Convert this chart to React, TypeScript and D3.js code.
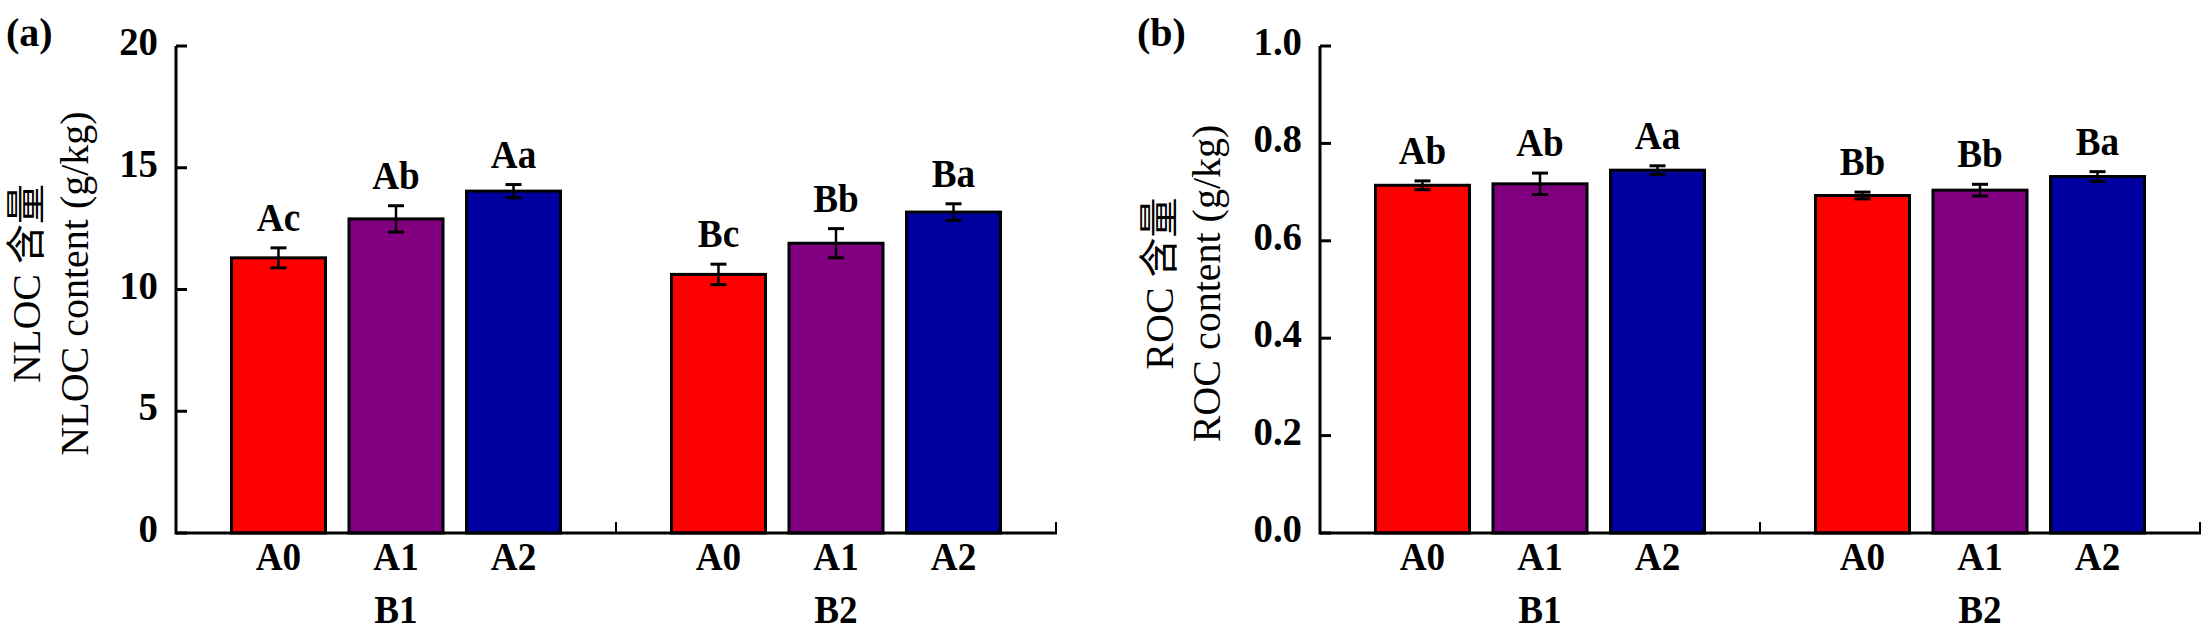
import React from 'react';
import * as d3 from 'd3';

const groups = ['B1', 'B2'];
const treatments = ['A0', 'A1', 'A2'];
const colors = ['#FF0000', '#800080', '#0000A0'];

const nlocMean = [11.3, 12.9, 14.04, 10.62, 11.9, 13.18];
const nlocErr = [0.41, 0.54, 0.27, 0.42, 0.6, 0.34];
const nlocLetters = ['Ac', 'Ab', 'Aa', 'Bc', 'Bb', 'Ba'];
const nlocTicks = [0, 5, 10, 15, 20];

const rocMean = [0.714, 0.717, 0.745, 0.693, 0.704, 0.732];
const rocErr = [0.009, 0.022, 0.009, 0.007, 0.012, 0.01];
const rocLetters = ['Ab', 'Ab', 'Aa', 'Bb', 'Bb', 'Ba'];
const rocTicks = [0, 0.2, 0.4, 0.6, 0.8, 1.0];

const FONT = "'Liberation Serif', 'Times New Roman', 'Noto Sans CJK SC', serif";
const FS = 40;
const SX = 0.93;

function T(props: {
  x: number;
  y: number;
  anchor?: string;
  bold?: boolean;
  sx?: number;
  children: React.ReactNode;
}) {
  const sx = props.sx ?? SX;
  return (
    <text
      transform={`translate(${props.x},${props.y}) scale(${sx},1)`}
      textAnchor={props.anchor ?? 'middle'}
      fontSize={FS}
      fontWeight={props.bold === false ? 'normal' : 'bold'}
    >
      {props.children}
    </text>
  );
}

type PanelProps = {
  x0: number;
  x1: number;
  tag: string;
  tagX: number;
  title1: string;
  title2: string;
  t1x: number;
  t2x: number;
  means: number[];
  errs: number[];
  letters: string[];
  ticks: number[];
  ymax: number;
  fmt: (v: number) => string;
};

function Panel(p: PanelProps) {
  const top = 46;
  const bottom = 533;
  const y = d3.scaleLinear().domain([0, p.ymax]).range([bottom, top]);
  const gx = d3.scaleBand<string>().domain(groups).range([p.x0, p.x1]).padding(0);
  const ix = d3
    .scaleBand<string>()
    .domain(treatments)
    .range([0, gx.bandwidth()])
    .paddingInner(0.2)
    .paddingOuter(0.472);
  const bw = ix.bandwidth();
  const cap = 8;
  const midY = (top + bottom) / 2;

  return (
    <g fontFamily={FONT} fill="#000">
      <T x={p.tagX} y={46} anchor="start" sx={1}>{p.tag}</T>
      <text
        transform={`translate(${p.t1x},${midY - 6}) rotate(-90)`}
        textAnchor="middle"
        fontSize={FS}
      >
        {p.title1}
      </text>
      <text
        transform={`translate(${p.t2x},${midY - 6}) rotate(-90)`}
        textAnchor="middle"
        fontSize={FS}
      >
        {p.title2}
      </text>
      {groups.map((g, gi) =>
        treatments.map((t, ti) => {
          const k = gi * 3 + ti;
          const bx = (gx(g) as number) + (ix(t) as number);
          const v = p.means[k];
          const e = p.errs[k];
          const cx = bx + bw / 2;
          return (
            <g key={k}>
              <rect
                x={bx}
                y={y(v)}
                width={bw}
                height={bottom - y(v)}
                fill={colors[ti]}
                stroke="#000"
                strokeWidth={3}
              />
              <line x1={cx} x2={cx} y1={y(v + e)} y2={y(v - e)} stroke="#000" strokeWidth={2.5} />
              <line x1={cx - cap} x2={cx + cap} y1={y(v + e)} y2={y(v + e)} stroke="#000" strokeWidth={3} />
              <line x1={cx - cap} x2={cx + cap} y1={y(v - e)} y2={y(v - e)} stroke="#000" strokeWidth={3} />
              <T x={cx} y={y(v + e) - 17}>{p.letters[k]}</T>
              <T x={cx} y={570}>{t}</T>
            </g>
          );
        })
      )}
      <line x1={p.x0} x2={p.x0} y1={top} y2={bottom + 1.5} stroke="#000" strokeWidth={3} />
      <line x1={p.x0} x2={p.x1 + 1} y1={bottom} y2={bottom} stroke="#000" strokeWidth={3} />
      {p.ticks.map((t) => (
        <g key={t}>
          <line x1={p.x0} x2={p.x0 + 11} y1={y(t)} y2={y(t)} stroke="#000" strokeWidth={3} />
          <T x={p.x0 - 18} y={y(t) + 9} anchor="end" sx={0.97}>{p.fmt(t)}</T>
        </g>
      ))}
      {groups.map((g) => {
        const ex = (gx(g) as number) + gx.bandwidth();
        return <line key={g} x1={ex} x2={ex} y1={bottom} y2={bottom - 11} stroke="#000" strokeWidth={2} />;
      })}
      {groups.map((g) => (
        <T key={g} x={(gx(g) as number) + gx.bandwidth() / 2} y={623}>{g}</T>
      ))}
    </g>
  );
}

export default function App() {
  return (
    <svg
      width={2209}
      height={644}
      style={{ position: 'absolute', left: 0, top: 0, background: '#fff' }}
    >
      <rect width={2209} height={644} fill="#fff" />
      <Panel
        x0={176}
        x1={1056}
        tag="(a)"
        tagX={6}
        title1="NLOC 含量"
        title2="NLOC content (g/kg)"
        t1x={40}
        t2x={88}
        means={nlocMean}
        errs={nlocErr}
        letters={nlocLetters}
        ticks={nlocTicks}
        ymax={20}
        fmt={(v) => String(v)}
      />
      <Panel
        x0={1320}
        x1={2200}
        tag="(b)"
        tagX={1137}
        title1="ROC 含量"
        title2="ROC content (g/kg)"
        t1x={1173}
        t2x={1220}
        means={rocMean}
        errs={rocErr}
        letters={rocLetters}
        ticks={rocTicks}
        ymax={1.0}
        fmt={(v) => v.toFixed(1)}
      />
    </svg>
  );
}
